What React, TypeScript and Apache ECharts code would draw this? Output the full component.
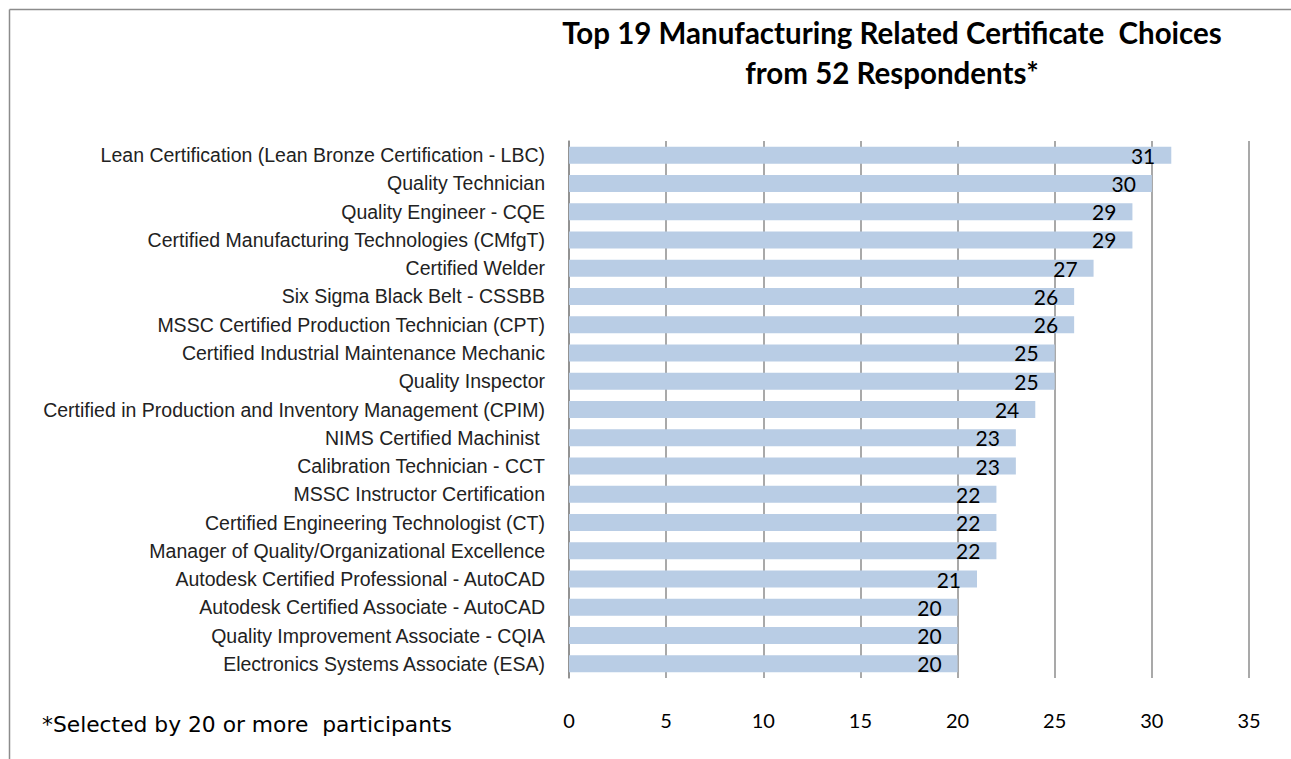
import React, { useEffect, useRef } from "react";
import * as echarts from "echarts";

const categories = [
  "Lean Certification (Lean Bronze Certification - LBC)",
  "Quality Technician",
  "Quality Engineer - CQE",
  "Certified Manufacturing Technologies (CMfgT)",
  "Certified Welder",
  "Six Sigma Black Belt - CSSBB",
  "MSSC Certified Production Technician (CPT)",
  "Certified Industrial Maintenance Mechanic",
  "Quality Inspector",
  "Certified in Production and Inventory Management (CPIM)",
  "NIMS Certified Machinist ",
  "Calibration Technician - CCT",
  "MSSC Instructor Certification",
  "Certified Engineering Technologist (CT)",
  "Manager of Quality/Organizational Excellence",
  "Autodesk Certified Professional - AutoCAD",
  "Autodesk Certified Associate - AutoCAD",
  "Quality Improvement Associate - CQIA",
  "Electronics Systems Associate (ESA)",
];

const values = [31, 30, 29, 29, 27, 26, 26, 25, 25, 24, 23, 23, 22, 22, 22, 21, 20, 20, 20];

const titleLines = [
  "Top 19 Manufacturing Related Certificate  Choices",
  "from 52 Respondents*",
];
const footnote = "*Selected by 20 or more  participants";

export default function App() {
  const ref = useRef<HTMLDivElement>(null);
  useEffect(() => {
    if (!ref.current) return;
    const chart = echarts.init(ref.current, null, { renderer: "svg" });
    chart.setOption({
      animation: false,
      backgroundColor: "#ffffff",
      title: {
        text: titleLines.join("\n"),
        left: 887,
        textAlign: "center",
        top: 7,
        textStyle: {
          fontFamily: "Lato",
          fontWeight: "bold",
          fontSize: 29.5,
          lineHeight: 40,
          color: "#000",
        },
      },
      grid: { left: 569, right: 42, top: 141, bottom: 81, containLabel: false },
      xAxis: {
        type: "value",
        min: 0,
        max: 35,
        interval: 5,
        axisLine: { show: false },
        axisTick: { show: false },
        splitLine: { show: true, lineStyle: { color: "#8c8c8c", width: 1.5 } },
        axisLabel: {
          margin: 32,
          fontFamily: "Lato",
          fontSize: 20,
          color: "#000",
        },
      },
      yAxis: {
        type: "category",
        inverse: true,
        data: categories,
        axisLine: { show: true, lineStyle: { color: "#8c8c8c", width: 1.5 } },
        axisTick: { show: false },
        axisLabel: {
          margin: 24,
          fontFamily: "Liberation Sans",
          fontSize: 19.5,
          color: "#222",
        },
      },
      series: [
        {
          type: "bar",
          data: values,
          barWidth: 17,
          itemStyle: { color: "#b9cde5" },
          label: {
            show: true,
            position: "insideRight",
            distance: 16,
            fontFamily: "Lato",
            fontSize: 21,
            color: "#000",
          },
        },
      ],
      graphic: [
        {
          type: "line",
          shape: { x1: 9.5, y1: 9.5, x2: 1291, y2: 9.5 },
          style: { stroke: "#8c8c8c", lineWidth: 1.5 },
        },
        {
          type: "line",
          shape: { x1: 9.5, y1: 9.5, x2: 9.5, y2: 759 },
          style: { stroke: "#8c8c8c", lineWidth: 1.5 },
        },
        {
          type: "text",
          left: 42,
          top: 713,
          style: {
            text: footnote,
            fontFamily: "DejaVu Sans",
            fontSize: 21.8,
            fill: "#000",
          },
        },
      ],
    });
    return () => chart.dispose();
  }, []);
  return (
    <div
      ref={ref}
      style={{ position: "fixed", left: 0, top: 0, width: 1291, height: 759 }}
    />
  );
}
